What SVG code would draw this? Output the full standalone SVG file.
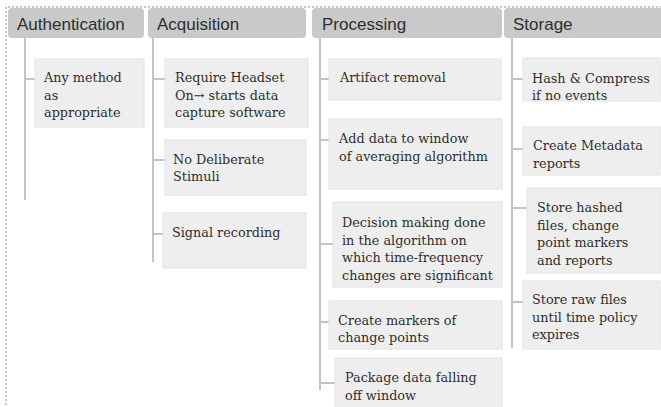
<svg xmlns="http://www.w3.org/2000/svg" width="661" height="407" viewBox="0 0 661 407">
  <style>
    .frame { fill: none; stroke: #b8b8b8; stroke-width: 1.6; stroke-dasharray: 2 2; }
    .head rect { fill: #c9c9c9; }
    .head text { font-family: "Liberation Sans", Arial, sans-serif; font-size: 17px; fill: #2e2e2e; }
    .box rect { fill: #eeeeee; stroke: #e2e2e2; stroke-width: 1; }
    .box text { font-family: "DejaVu Serif", "Liberation Serif", serif; font-size: 12.8px; fill: #2f2f2f; }
    .wire { stroke: #c4c4c4; stroke-width: 2; fill: none; }
  </style>

  <!-- dotted outer frame (top and left edges) -->
  <path class="frame" d="M6 405 V7 H661"/>

  <!-- connectors: column spines and branch stubs -->
  <g id="connectors" class="wire">
    <path d="M25 38 V200 M25 79 H35"/>
    <path d="M153 38 V262 M153 79 H165 M153 160 H165 M153 234 H163"/>
    <path d="M320 38 V390 M320 79 H329 M320 140 H329 M320 244 H333 M320 322 H329 M320 383 H335"/>
    <path d="M512 38 V348 M512 79 H523 M512 149 H523 M512 208 H527 M512 302 H523"/>
  </g>

  <!-- column headers -->
  <g id="hdr-auth" class="head"><rect x="8" y="8" width="136" height="30" rx="4"/><text x="17" y="30">Authentication</text></g>
  <g id="hdr-acq" class="head"><rect x="148" y="8" width="158" height="30" rx="4"/><text x="157" y="30">Acquisition</text></g>
  <g id="hdr-proc" class="head"><rect x="312" y="8" width="190" height="30" rx="4"/><text x="322" y="30">Processing</text></g>
  <g id="hdr-store" class="head"><rect x="504" y="8" width="162" height="30" rx="4"/><text x="513" y="30">Storage</text></g>

  <!-- Authentication -->
  <g id="auth-1" class="box"><rect x="35" y="59" width="109" height="68"/>
    <text x="44" y="82">Any method</text><text x="44" y="100">as</text><text x="44" y="117">appropriate</text></g>

  <!-- Acquisition -->
  <g id="acq-1" class="box"><rect x="165" y="59" width="143" height="68"/>
    <text x="175" y="82">Require Headset</text><text x="175" y="100">On→ starts data</text><text x="175" y="117">capture software</text></g>
  <g id="acq-2" class="box"><rect x="165" y="140" width="141" height="55"/>
    <text x="173" y="164">No Deliberate</text><text x="173" y="181">Stimuli</text></g>
  <g id="acq-3" class="box"><rect x="163" y="213" width="143" height="55"/>
    <text x="172" y="237">Signal recording</text></g>

  <!-- Processing -->
  <g id="proc-1" class="box"><rect x="329" y="59" width="172" height="41"/>
    <text x="340" y="82">Artifact removal</text></g>
  <g id="proc-2" class="box"><rect x="329" y="119" width="173" height="70"/>
    <text x="339" y="143">Add data to window</text><text x="339" y="161">of averaging algorithm</text></g>
  <g id="proc-3" class="box"><rect x="333" y="202" width="169" height="85"/>
    <text x="342" y="227">Decision making done</text><text x="342" y="244.7">in the algorithm on</text><text x="342" y="262.4">which time-frequency</text><text x="342" y="280">changes are significant</text></g>
  <g id="proc-4" class="box"><rect x="329" y="301" width="173" height="48"/>
    <text x="338" y="325">Create markers of</text><text x="338" y="342">change points</text></g>
  <g id="proc-5" class="box"><rect x="335" y="358" width="167" height="50"/>
    <text x="345" y="382">Package data falling</text><text x="345" y="400">off window</text></g>

  <!-- Storage -->
  <g id="store-1" class="box"><rect x="523" y="58" width="137" height="43"/>
    <text x="532" y="83">Hash &amp; Compress</text><text x="532" y="100">if no events</text></g>
  <g id="store-2" class="box"><rect x="523" y="127" width="137" height="48"/>
    <text x="533" y="150">Create Metadata</text><text x="533" y="168">reports</text></g>
  <g id="store-3" class="box"><rect x="527" y="188" width="133" height="85"/>
    <text x="537" y="212">Store hashed</text><text x="537" y="230">files, change</text><text x="537" y="247">point markers</text><text x="537" y="265">and reports</text></g>
  <g id="store-4" class="box"><rect x="523" y="281" width="137" height="68"/>
    <text x="532" y="304">Store raw files</text><text x="532" y="322">until time policy</text><text x="532" y="339">expires</text></g>
</svg>
